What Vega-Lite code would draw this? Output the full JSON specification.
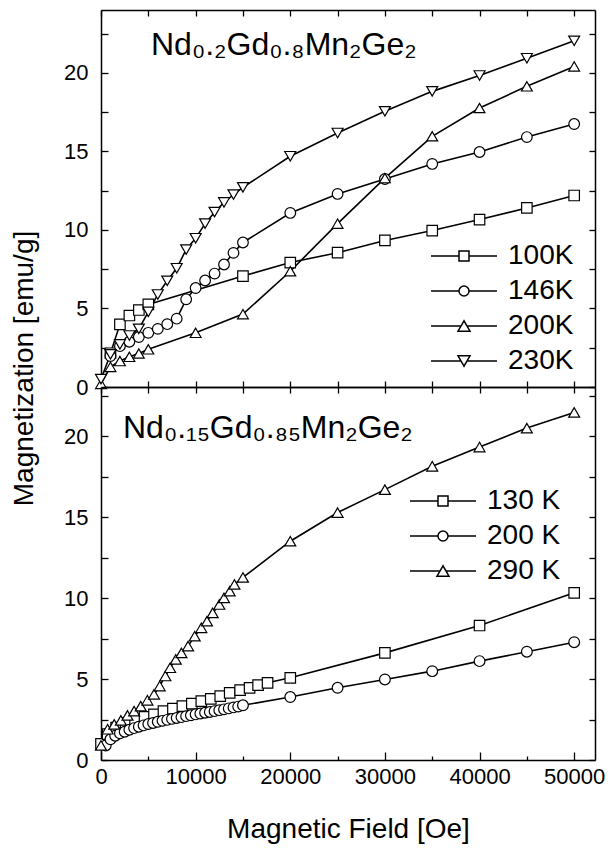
{
  "$schema": "https://vega.github.io/schema/vega-lite/v6.json",
  "padding": {"left": 10, "top": 9, "right": 5, "bottom": 5},
  "spacing": 0,
  "bounds": "flush",
  "resolve": {"scale": {"shape": "independent", "size": "independent"}, "legend": {"shape": "independent"}},
  "config": {
    "view": {"stroke": null},
    "font": "Liberation Sans",
    "axis": {
      "grid": false, "domainColor": "black", "domainWidth": 1.5, "tickColor": "black", "tickWidth": 1.3,
      "labelColor": "black", "labelFont": "Liberation Sans", "labelFontSize": 22, "labelFlush": false, "labelOverlap": false,
      "titleColor": "black", "titleFont": "Liberation Sans", "titleFontSize": 28, "titleFontWeight": "normal"
    },
    "legend": {
      "orient": "none", "padding": 0, "labelFont": "Liberation Sans", "labelFontSize": 28, "labelColor": "black",
      "labelOffset": 30, "rowPadding": 7
    }
  },
  "datasets": {
    "top": [
      {"T": "100K", "H": 1000, "M": 2.15}, {"T": "100K", "H": 2000, "M": 3.99}, {"T": "100K", "H": 3000, "M": 4.55}, {"T": "100K", "H": 4000, "M": 4.9}, {"T": "100K", "H": 5000, "M": 5.26},
      {"T": "100K", "H": 15000, "M": 7.06}, {"T": "100K", "H": 20000, "M": 7.92}, {"T": "100K", "H": 25000, "M": 8.55}, {"T": "100K", "H": 30000, "M": 9.33}, {"T": "100K", "H": 35000, "M": 9.96}, {"T": "100K", "H": 40000, "M": 10.66}, {"T": "100K", "H": 45000, "M": 11.4}, {"T": "100K", "H": 50000, "M": 12.19},
      {"T": "146K", "H": 1000, "M": 1.97}, {"T": "146K", "H": 2000, "M": 2.6}, {"T": "146K", "H": 3000, "M": 2.88}, {"T": "146K", "H": 4000, "M": 3.18}, {"T": "146K", "H": 5000, "M": 3.45}, {"T": "146K", "H": 6000, "M": 3.7}, {"T": "146K", "H": 7000, "M": 4.0}, {"T": "146K", "H": 8000, "M": 4.35}, {"T": "146K", "H": 9000, "M": 5.58}, {"T": "146K", "H": 10000, "M": 6.3}, {"T": "146K", "H": 11000, "M": 6.78}, {"T": "146K", "H": 12000, "M": 7.22}, {"T": "146K", "H": 13000, "M": 7.8}, {"T": "146K", "H": 14000, "M": 8.54}, {"T": "146K", "H": 15000, "M": 9.2},
      {"T": "146K", "H": 20000, "M": 11.08}, {"T": "146K", "H": 25000, "M": 12.29}, {"T": "146K", "H": 30000, "M": 13.24}, {"T": "146K", "H": 35000, "M": 14.2}, {"T": "146K", "H": 40000, "M": 14.96}, {"T": "146K", "H": 45000, "M": 15.91}, {"T": "146K", "H": 50000, "M": 16.74},
      {"T": "200K", "H": 0, "M": 0.2}, {"T": "200K", "H": 1000, "M": 1.28}, {"T": "200K", "H": 2000, "M": 1.65}, {"T": "200K", "H": 3000, "M": 1.92}, {"T": "200K", "H": 4000, "M": 2.13}, {"T": "200K", "H": 5000, "M": 2.4}, {"T": "200K", "H": 10000, "M": 3.45}, {"T": "200K", "H": 15000, "M": 4.64},
      {"T": "200K", "H": 20000, "M": 7.37}, {"T": "200K", "H": 25000, "M": 10.4}, {"T": "200K", "H": 30000, "M": 13.3}, {"T": "200K", "H": 35000, "M": 15.96}, {"T": "200K", "H": 40000, "M": 17.76}, {"T": "200K", "H": 45000, "M": 19.14}, {"T": "200K", "H": 50000, "M": 20.41},
      {"T": "230K", "H": 0, "M": 0.5}, {"T": "230K", "H": 1000, "M": 2.08}, {"T": "230K", "H": 2000, "M": 2.71}, {"T": "230K", "H": 3000, "M": 3.28}, {"T": "230K", "H": 4000, "M": 3.7}, {"T": "230K", "H": 5000, "M": 4.78}, {"T": "230K", "H": 6000, "M": 5.89}, {"T": "230K", "H": 7000, "M": 6.76}, {"T": "230K", "H": 8000, "M": 7.56}, {"T": "230K", "H": 9000, "M": 8.75}, {"T": "230K", "H": 10000, "M": 9.47}, {"T": "230K", "H": 11000, "M": 10.4}, {"T": "230K", "H": 12000, "M": 11.13}, {"T": "230K", "H": 13000, "M": 11.75}, {"T": "230K", "H": 14000, "M": 12.25}, {"T": "230K", "H": 15000, "M": 12.71},
      {"T": "230K", "H": 20000, "M": 14.69}, {"T": "230K", "H": 25000, "M": 16.17}, {"T": "230K", "H": 30000, "M": 17.55}, {"T": "230K", "H": 35000, "M": 18.82}, {"T": "230K", "H": 40000, "M": 19.83}, {"T": "230K", "H": 45000, "M": 20.93}, {"T": "230K", "H": 50000, "M": 22.04}
    ],
    "bottom": [
      {"T": "130 K", "H": 0, "M": 1.0}, {"T": "130 K", "H": 700, "M": 1.6}, {"T": "130 K", "H": 1600, "M": 2.0}, {"T": "130 K", "H": 2600, "M": 2.3}, {"T": "130 K", "H": 3600, "M": 2.51}, {"T": "130 K", "H": 4600, "M": 2.67}, {"T": "130 K", "H": 5600, "M": 2.82}, {"T": "130 K", "H": 6600, "M": 3.02}, {"T": "130 K", "H": 7600, "M": 3.17}, {"T": "130 K", "H": 8600, "M": 3.33}, {"T": "130 K", "H": 9600, "M": 3.48}, {"T": "130 K", "H": 10600, "M": 3.64}, {"T": "130 K", "H": 11600, "M": 3.78}, {"T": "130 K", "H": 12600, "M": 3.95}, {"T": "130 K", "H": 13600, "M": 4.15}, {"T": "130 K", "H": 14700, "M": 4.32}, {"T": "130 K", "H": 15700, "M": 4.46}, {"T": "130 K", "H": 16600, "M": 4.63}, {"T": "130 K", "H": 17600, "M": 4.77},
      {"T": "130 K", "H": 20000, "M": 5.08}, {"T": "130 K", "H": 30000, "M": 6.62}, {"T": "130 K", "H": 40000, "M": 8.31}, {"T": "130 K", "H": 50000, "M": 10.33},
      {"T": "200 K", "H": 500, "M": 0.9}, {"T": "200 K", "H": 1000, "M": 1.28}, {"T": "200 K", "H": 1500, "M": 1.5}, {"T": "200 K", "H": 2000, "M": 1.65}, {"T": "200 K", "H": 2500, "M": 1.75}, {"T": "200 K", "H": 3000, "M": 1.87}, {"T": "200 K", "H": 3500, "M": 1.97}, {"T": "200 K", "H": 4000, "M": 2.06}, {"T": "200 K", "H": 4500, "M": 2.14}, {"T": "200 K", "H": 5000, "M": 2.22}, {"T": "200 K", "H": 5500, "M": 2.29}, {"T": "200 K", "H": 6000, "M": 2.36}, {"T": "200 K", "H": 6500, "M": 2.42}, {"T": "200 K", "H": 7000, "M": 2.48}, {"T": "200 K", "H": 7500, "M": 2.54}, {"T": "200 K", "H": 8000, "M": 2.6}, {"T": "200 K", "H": 8500, "M": 2.65}, {"T": "200 K", "H": 9000, "M": 2.71}, {"T": "200 K", "H": 9500, "M": 2.76}, {"T": "200 K", "H": 10000, "M": 2.82}, {"T": "200 K", "H": 10500, "M": 2.87}, {"T": "200 K", "H": 11000, "M": 2.92}, {"T": "200 K", "H": 11500, "M": 2.97}, {"T": "200 K", "H": 12000, "M": 3.02}, {"T": "200 K", "H": 12500, "M": 3.08}, {"T": "200 K", "H": 13000, "M": 3.13}, {"T": "200 K", "H": 13500, "M": 3.19}, {"T": "200 K", "H": 14000, "M": 3.25}, {"T": "200 K", "H": 14500, "M": 3.3}, {"T": "200 K", "H": 15000, "M": 3.38},
      {"T": "200 K", "H": 20000, "M": 3.89}, {"T": "200 K", "H": 25000, "M": 4.46}, {"T": "200 K", "H": 30000, "M": 4.98}, {"T": "200 K", "H": 35000, "M": 5.49}, {"T": "200 K", "H": 40000, "M": 6.11}, {"T": "200 K", "H": 45000, "M": 6.69}, {"T": "200 K", "H": 50000, "M": 7.28},
      {"T": "290 K", "H": 0, "M": 0.9}, {"T": "290 K", "H": 700, "M": 1.9}, {"T": "290 K", "H": 1400, "M": 2.2}, {"T": "290 K", "H": 2100, "M": 2.45}, {"T": "290 K", "H": 2800, "M": 2.76}, {"T": "290 K", "H": 3500, "M": 3.02}, {"T": "290 K", "H": 4200, "M": 3.33}, {"T": "290 K", "H": 4900, "M": 3.69}, {"T": "290 K", "H": 5600, "M": 4.06}, {"T": "290 K", "H": 6200, "M": 4.57}, {"T": "290 K", "H": 6800, "M": 5.19}, {"T": "290 K", "H": 7300, "M": 5.7}, {"T": "290 K", "H": 7900, "M": 6.22}, {"T": "290 K", "H": 8500, "M": 6.62}, {"T": "290 K", "H": 9200, "M": 7.04}, {"T": "290 K", "H": 9900, "M": 7.65}, {"T": "290 K", "H": 10600, "M": 8.17}, {"T": "290 K", "H": 11200, "M": 8.58}, {"T": "290 K", "H": 11800, "M": 9.09}, {"T": "290 K", "H": 12500, "M": 9.61}, {"T": "290 K", "H": 13000, "M": 10.02}, {"T": "290 K", "H": 13600, "M": 10.43}, {"T": "290 K", "H": 14100, "M": 10.85}, {"T": "290 K", "H": 15000, "M": 11.28},
      {"T": "290 K", "H": 20000, "M": 13.52}, {"T": "290 K", "H": 25000, "M": 15.29}, {"T": "290 K", "H": 30000, "M": 16.71}, {"T": "290 K", "H": 35000, "M": 18.15}, {"T": "290 K", "H": 40000, "M": 19.34}, {"T": "290 K", "H": 45000, "M": 20.51}, {"T": "290 K", "H": 50000, "M": 21.48}
    ]
  },
  "vconcat": [
    {
      "width": 494, "height": 377,
      "title": {"text": "Nd₀.₂Gd₀.₈Mn₂Ge₂", "anchor": "start", "frame": "group", "dx": 50, "offset": -78, "baseline": "alphabetic", "fontSize": 32, "font": "Liberation Sans", "fontWeight": "normal", "color": "black"},
      "data": {"name": "top"},
      "layer": [
        {
          "mark": {"type": "line", "color": "black", "strokeWidth": 1.6},
          "encoding": {
            "x": {"field": "H", "type": "quantitative", "scale": {"domain": [0, 52200], "nice": false, "zero": false},
                  "axis": {"orient": "bottom", "values": [0, 5000, 10000, 15000, 20000, 25000, 30000, 35000, 40000, 45000, 50000], "labels": false, "tickSize": -6, "title": null}},
            "y": {"field": "M", "type": "quantitative", "scale": {"domain": [0, 24], "nice": false},
                  "axis": {"orient": "left", "values": [0, 2.5, 5, 7.5, 10, 12.5, 15, 17.5, 20, 22.5], "labelExpr": "datum.value % 5 === 0 ? datum.label : ''", "tickSize": -7, "labelPadding": 20,
                           "title": "Magnetization [emu/g]", "titleX": -69, "titleY": 358, "titleAngle": -90, "titleBaseline": "alphabetic", "titleAlign": "center"}},
            "detail": {"field": "T", "type": "nominal"}
          }
        },
        {
          "mark": {"type": "point", "filled": true, "fill": "white", "stroke": "black", "strokeWidth": 1.2, "opacity": 1},
          "encoding": {
            "x": {"field": "H", "type": "quantitative", "scale": {"domain": [0, 52200], "nice": false, "zero": false},
                  "axis": {"orient": "top", "values": [0, 5000, 10000, 15000, 20000, 25000, 30000, 35000, 40000, 45000, 50000], "labels": false, "tickSize": -6, "title": null}},
            "y": {"field": "M", "type": "quantitative", "scale": {"domain": [0, 24], "nice": false},
                  "axis": {"orient": "right", "values": [0, 2.5, 5, 7.5, 10, 12.5, 15, 17.5, 20, 22.5], "labels": false, "tickSize": -6, "title": null}},
            "shape": {"field": "T", "type": "nominal", "scale": {"domain": ["100K", "146K", "200K", "230K"], "range": ["square", "circle", "triangle-up", "triangle-down"]}, "legend": null},
            "size": {"field": "T", "type": "nominal", "scale": {"domain": ["100K", "146K", "200K", "230K"], "range": [110, 120, 160, 160]}, "legend": null}
          }
        },
        {
          "transform": [{"filter": "datum.H < 0"}],
          "mark": {"type": "point", "filled": true, "fill": "white", "stroke": "black", "strokeWidth": 1.2, "opacity": 1},
          "encoding": {
            "shape": {"field": "T", "type": "nominal",
                      "scale": {"domain": ["100K", "146K", "200K", "230K"],
                                "range": ["M-6.6,0H-1M1,0H6.6M-1,-1H1V1H-1Z", "M-6.6,0H-1M1,0H6.6M1,0A1,1,0,1,1,-1,0A1,1,0,1,1,1,0Z", "M-6.6,0H-0.6M0.6,0H6.6M0,-1.04L-1.2,1.04L1.2,1.04Z", "M-6.6,0H-0.6M0.6,0H6.6M0,1.04L-1.2,-1.04L1.2,-1.04Z"]},
                      "legend": {"orient": "none", "legendX": 349, "legendY": 232, "title": null,
                                 "encode": {"symbols": {"fill": {"value": "white"}, "stroke": {"value": "black"}, "strokeWidth": {"value": 1.2}, "size": {"value": 130}, "opacity": {"value": 1}, "fillOpacity": {"value": 1}, "strokeOpacity": {"value": 1}}}}}
          }
        }
      ],
      "resolve": {"axis": {"x": "independent", "y": "independent"}, "scale": {"shape": "independent"}}
    },
    {
      "width": 494, "height": 373,
      "title": {"text": "Nd₀.₁₅Gd₀.₈₅Mn₂Ge₂", "anchor": "start", "frame": "group", "dx": 22, "offset": -85, "baseline": "alphabetic", "fontSize": 32, "font": "Liberation Sans", "fontWeight": "normal", "color": "black"},
      "data": {"name": "bottom"},
      "layer": [
        {
          "mark": {"type": "line", "color": "black", "strokeWidth": 1.6},
          "encoding": {
            "x": {"field": "H", "type": "quantitative", "scale": {"domain": [0, 52200], "nice": false, "zero": false},
                  "axis": {"orient": "bottom", "values": [0, 5000, 10000, 15000, 20000, 25000, 30000, 35000, 40000, 45000, 50000], "format": "d",
                           "labelExpr": "datum.value % 10000 === 0 ? datum.label : ''",
                           "tickSize": {"condition": {"test": "datum.value % 10000 === 0", "value": -8}, "value": -4}, "labelPadding": 14,
                           "title": "Magnetic Field [Oe]", "titleY": 77, "titleBaseline": "alphabetic"}},
            "y": {"field": "M", "type": "quantitative", "scale": {"domain": [0, 23.05], "nice": false},
                  "axis": {"orient": "left", "values": [0, 2.5, 5, 7.5, 10, 12.5, 15, 17.5, 20, 22.5], "labelExpr": "datum.value % 5 === 0 ? datum.label : ''", "tickSize": -7, "labelPadding": 20, "title": null}},
            "detail": {"field": "T", "type": "nominal"}
          }
        },
        {
          "mark": {"type": "point", "filled": true, "fill": "white", "stroke": "black", "strokeWidth": 1.2, "opacity": 1},
          "encoding": {
            "x": {"field": "H", "type": "quantitative", "scale": {"domain": [0, 52200], "nice": false, "zero": false},
                  "axis": {"orient": "top", "values": [0, 5000, 10000, 15000, 20000, 25000, 30000, 35000, 40000, 45000, 50000], "labels": false, "tickSize": -6, "title": null}},
            "y": {"field": "M", "type": "quantitative", "scale": {"domain": [0, 23.05], "nice": false},
                  "axis": {"orient": "right", "values": [0, 2.5, 5, 7.5, 10, 12.5, 15, 17.5, 20, 22.5], "labels": false, "tickSize": -6, "title": null}},
            "shape": {"field": "T", "type": "nominal", "scale": {"domain": ["130 K", "200 K", "290 K"], "range": ["square", "circle", "triangle-up"]}, "legend": null},
            "size": {"field": "T", "type": "nominal", "scale": {"domain": ["130 K", "200 K", "290 K"], "range": [110, 120, 160]}, "legend": null}
          }
        },
        {
          "transform": [{"filter": "datum.H < 0"}],
          "mark": {"type": "point", "filled": true, "fill": "white", "stroke": "black", "strokeWidth": 1.2, "opacity": 1},
          "encoding": {
            "shape": {"field": "T", "type": "nominal",
                      "scale": {"domain": ["130 K", "200 K", "290 K"],
                                "range": ["M-6.6,0H-1M1,0H6.6M-1,-1H1V1H-1Z", "M-6.6,0H-1M1,0H6.6M1,0A1,1,0,1,1,-1,0A1,1,0,1,1,1,0Z", "M-6.6,0H-0.6M0.6,0H6.6M0,-1.04L-1.2,1.04L1.2,1.04Z"]},
                      "legend": {"orient": "none", "legendX": 328, "legendY": 100, "title": null,
                                 "encode": {"symbols": {"fill": {"value": "white"}, "stroke": {"value": "black"}, "strokeWidth": {"value": 1.2}, "size": {"value": 130}, "opacity": {"value": 1}, "fillOpacity": {"value": 1}, "strokeOpacity": {"value": 1}}}}}
          }
        }
      ],
      "resolve": {"axis": {"x": "independent", "y": "independent"}, "scale": {"shape": "independent", "size": "independent"}}
    }
  ]
}
